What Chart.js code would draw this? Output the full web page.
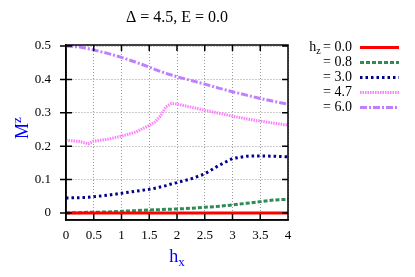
<!DOCTYPE html>
<html><head><meta charset="utf-8">
<script src="https://cdn.jsdelivr.net/npm/chart.js@4/dist/chart.umd.min.js"></script>
<style>html,body{margin:0;padding:0;background:#fff}#wrap{width:415px;height:277px}</style>
</head><body><div id="wrap"><canvas id="c" width="415" height="277"></canvas></div>
<script>
const hx = [0,0.25,0.4,0.5,0.75,1,1.25,1.5,1.6,1.7,1.8,1.9,2,2.25,2.5,2.75,3,3.25,3.5,3.75,4];
const hz00 = [0,0,0,0,0,0,0,0,0,0,0,0,0,0,0,0,0,0,0,0,0];
const hz08 = [0,0.001,0.002,0.002,0.003,0.005,0.007,0.009,0.0095,0.010,0.011,0.0115,0.012,0.014,0.017,0.020,0.024,0.029,0.034,0.039,0.041];
const hz30 = [0.045,0.046,0.047,0.049,0.053,0.059,0.065,0.071,0.074,0.078,0.082,0.087,0.091,0.102,0.117,0.142,0.163,0.170,0.171,0.170,0.168];
const hz47 = [0.218,0.214,0.207,0.215,0.221,0.230,0.242,0.262,0.272,0.290,0.318,0.328,0.326,0.317,0.308,0.299,0.290,0.282,0.275,0.269,0.263];
const hz60 = [0.5,0.497,0.492,0.488,0.478,0.466,0.452,0.437,0.430,0.424,0.418,0.413,0.408,0.397,0.386,0.374,0.363,0.353,0.343,0.334,0.326];
const xTicks = [0,0.5,1,1.5,2,2.5,3,3.5,4];
const yTicks = [0,0.1,0.2,0.3,0.4,0.5];
const legendLabels = ["0.0","0.8","3.0","4.7","6.0"];
const titleText = "\u0394 = 4.5, E = 0.0";

const pts = arr => hx.map((x,i)=>({x:x,y:arr[i]}));
const styles = [
  {c:'#ff0000', w:3, d:[]},
  {c:'#2e8b57', w:3, d:[4,2]},
  {c:'#00008b', w:3, d:[2.5,3]},
  {c:'#ff80ff', w:3, d:[1.5,1]},
  {c:'#bf80ff', w:3, d:[7,2,2,2]}
];
const series = [hz00,hz08,hz30,hz47,hz60];
const datasets = series.map((s,i)=>({
  data: pts(s), borderColor: styles[i].c, borderWidth: styles[i].w, borderDash: styles[i].d,
  pointRadius: 0, fill:false, tension:0, borderCapStyle:'butt'
}));
const FAM = 'Liberation Serif';
const F = px => px+'px "'+FAM+'", serif';
let dbg = '';

const deco = {
  id:'deco',
  afterDraw(chart){
    const ctx = chart.ctx, xs = chart.scales.x, ys = chart.scales.y;
    const L = Math.round(xs.getPixelForValue(0));
    const R = Math.round(xs.getPixelForValue(4));
    const T = Math.round(ys.top);
    const B = Math.round(ys.bottom);
    dbg = JSON.stringify({ca:chart.chartArea, L, R, T, B, w:chart.width, h:chart.height});
    ctx.save();
    ctx.globalAlpha = 1;
    ctx.globalCompositeOperation = 'source-over';
    ctx.setLineDash([]);
    ctx.strokeStyle = 'rgb(0,0,0)';
    ctx.lineWidth = 1.5;
    ctx.beginPath();
    ctx.moveTo(L, T); ctx.lineTo(R, T); ctx.lineTo(R, B); ctx.lineTo(L, B); ctx.closePath();
    xTicks.forEach(v=>{const p=xs.getPixelForValue(v);
      ctx.moveTo(p,B); ctx.lineTo(p,B-6);
      ctx.moveTo(p,T); ctx.lineTo(p,T+6);});
    yTicks.forEach(v=>{const p=ys.getPixelForValue(v);
      ctx.moveTo(L-6,p); ctx.lineTo(L+6,p);
      ctx.moveTo(R,p); ctx.lineTo(R-6,p);});
    ctx.stroke();

    ctx.fillStyle='#000'; ctx.font=F(16); ctx.textAlign='center'; ctx.textBaseline='middle';
    ctx.fillText(titleText, 177, 18);
    ctx.fillStyle='#0000ff'; ctx.textAlign='left'; ctx.textBaseline='alphabetic';
    ctx.font=F(18); const hw = ctx.measureText('h').width;
    ctx.font=F(13); const xw = ctx.measureText('x').width;
    const x0 = 177-(hw+xw)/2;
    ctx.font=F(18); ctx.fillText('h', x0, 262);
    ctx.font=F(13); ctx.fillText('x', x0+hw, 266);
    ctx.save(); ctx.translate(28,128); ctx.rotate(-Math.PI/2);
    ctx.font=F(18); const mw = ctx.measureText('M').width;
    ctx.font=F(13); const zw = ctx.measureText('z').width;
    const y0 = -(mw+zw)/2;
    ctx.font=F(18); ctx.fillText('M', y0, 0);
    ctx.font=F(13); ctx.fillText('z', y0+mw, -7);
    ctx.restore();
    ctx.fillStyle='#000';
    const rowY = [47.5,62.5,77.5,92.5,107.5];
    legendLabels.forEach((lab,i)=>{
      const y = rowY[i];
      ctx.textAlign='right'; ctx.textBaseline='middle'; ctx.font=F(14);
      const txt = '= '+lab;
      ctx.fillText(txt, 352, y);
      if(i===0){
        const tw = ctx.measureText(txt+' ').width;
        ctx.font=F(10);
        ctx.fillText('z', 352-tw+1, y+4);
        const zw2 = ctx.measureText('z').width;
        ctx.font=F(14);
        ctx.fillText('h', 352-tw-zw2+1, y);
      }
      const st = styles[i];
      ctx.strokeStyle=st.c; ctx.lineWidth=st.w; ctx.setLineDash(st.d); ctx.lineCap='butt';
      ctx.beginPath(); ctx.moveTo(360,y); ctx.lineTo(399,y); ctx.stroke();
    });
    ctx.restore();
  }
};

new Chart(document.getElementById('c'), {
  type:'line',
  data:{datasets},
  options:{
    responsive:false, animation:false,
    layout:{padding:{left:0,right:127,top:45,bottom:0}},
    plugins:{legend:{display:false}, tooltip:{enabled:false}, title:{display:false}},
    scales:{
      x:{type:'linear', min:0, max:4, position:'bottom',
        afterBuildTicks: s=>{ s.ticks = xTicks.map(v=>({value:v})); },
        afterFit: s=>{ s.height = 57; },
        border:{display:true, color:'#000000', width:1.5, dash:[1,2]},
        grid:{color:'#999999', lineWidth:1, drawTicks:false},
        ticks:{font:{family:FAM,size:13}, color:'#000000', padding:8, maxRotation:0,
          callback: v=> String(v)}
      },
      y:{type:'linear', min:-0.021, max:0.503, position:'left',
        afterBuildTicks: s=>{ s.ticks = yTicks.map(v=>({value:v})); },
        afterFit: s=>{ s.width = 66; },
        border:{display:true, color:'#000000', width:1.5, dash:[1,2]},
        grid:{color:'#999999', lineWidth:1, drawTicks:false},
        ticks:{font:{family:FAM,size:13}, color:'#000000', padding:15,
          callback: v=> String(Math.round(v*10)/10)}
      }
    }
  },
  plugins:[deco]
});
setTimeout(()=>{ console.error('DBG '+dbg); }, 50);
</script></body></html>
